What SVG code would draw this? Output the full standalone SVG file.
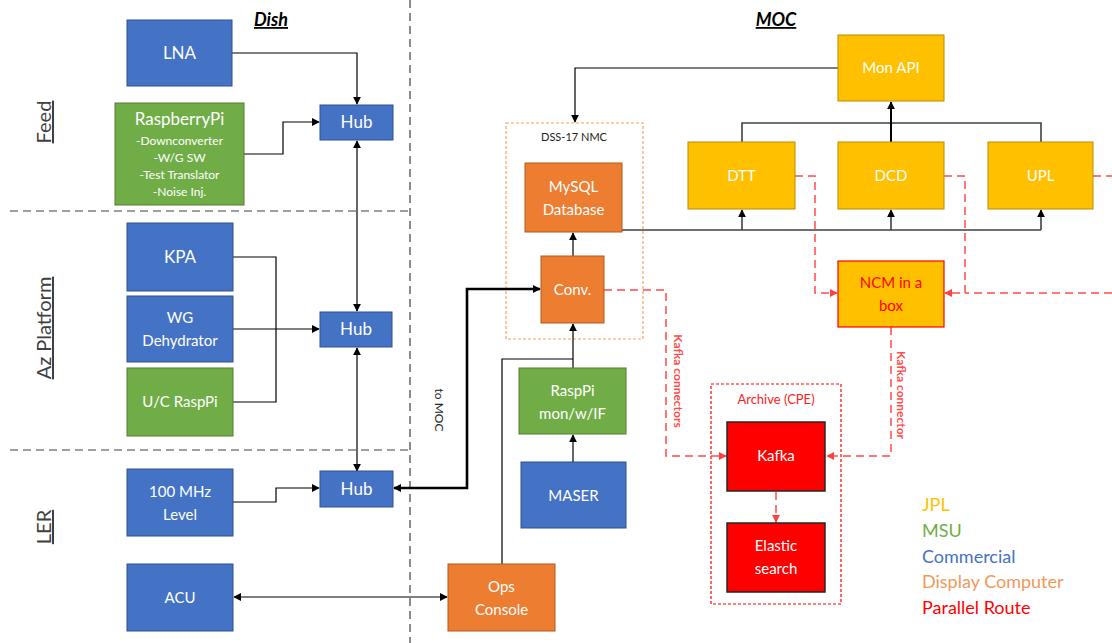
<svg xmlns="http://www.w3.org/2000/svg" width="1112" height="643" viewBox="0 0 1112 643">
<defs>
<marker id="ah" viewBox="0 0 10 10" refX="9" refY="5" markerWidth="8" markerHeight="8" markerUnits="userSpaceOnUse" orient="auto-start-reverse"><path d="M0,0 L10,5 L0,10 z" fill="#000"/></marker>
<marker id="ahr" viewBox="0 0 10 10" refX="9" refY="5" markerWidth="8" markerHeight="8" markerUnits="userSpaceOnUse" orient="auto-start-reverse"><path d="M0,0 L10,5 L0,10 z" fill="#FF4040"/></marker>
<style>
.t{font-family:Lato,"Open Sans","Liberation Sans",sans-serif;fill:#fff;text-anchor:middle}
.blue{fill:#4472C4;stroke:#2F528F;stroke-width:1}
.green{fill:#70AD47;stroke:#507E32;stroke-width:1}
.orange{fill:#ED7D31;stroke:#AE5A21;stroke-width:1}
.yellow{fill:#FFC000;stroke:#BC8C00;stroke-width:1}
.red{fill:#FF0000;stroke:#262626;stroke-width:1.5}
.ln{fill:none;stroke:#000;stroke-width:1.2}
.thick{fill:none;stroke:#000;stroke-width:2.6}
.gl{fill:none;stroke:#404040;stroke-width:1.6}
.rd{fill:none;stroke:#FF4B4B;stroke-width:1.5;stroke-dasharray:8,5}
.div{fill:none;stroke:#404040;stroke-width:1.2;stroke-dasharray:8,5}
.lab{font-family:Lato,"Open Sans","Liberation Sans",sans-serif;text-anchor:middle;fill:#404040}
</style>
</defs>
<rect width="1112" height="643" fill="#fff"/>

<g id="dividers">
<line class="div" x1="410" y1="0" x2="410" y2="643"/>
<line class="div" x1="10" y1="211" x2="410" y2="211"/>
<line class="div" x1="10" y1="450" x2="410" y2="450"/>
</g>

<g id="titles">
<text x="271" y="26" class="lab" style="font-size:18px;font-weight:bold;font-style:italic;fill:#000" text-decoration="underline">Dish</text>
<text x="776" y="26" class="lab" style="font-size:18px;font-weight:bold;font-style:italic;fill:#000" text-decoration="underline">MOC</text>
<text transform="translate(51,122) rotate(-90)" class="lab" style="font-size:20px" text-decoration="underline">Feed</text>
<text transform="translate(51,328) rotate(-90)" class="lab" style="font-size:20px" text-decoration="underline">Az Platform</text>
<text transform="translate(51,527) rotate(-90)" class="lab" style="font-size:20px" text-decoration="underline">LER</text>
</g>

<g id="containers">
<g id="dss17">
<rect x="506" y="123" width="137" height="216" fill="none" stroke="#F4A460" stroke-width="1.2" stroke-dasharray="3,2"/>
<text x="574" y="141" class="lab" style="font-size:11px;fill:#222">DSS-17 NMC</text>
</g>
<g id="archive">
<rect x="711" y="384" width="130" height="220" fill="none" stroke="#FF0000" stroke-width="1.2" stroke-dasharray="3,2"/>
<text x="776" y="404" class="lab" style="font-size:13px;fill:#FF2020">Archive (CPE)</text>
</g>
</g>

<g id="connectors">
<path class="ln" d="M232,53 H357 V104" marker-end="url(#ah)"/>
<path class="ln" d="M244,154 H283 V122 H319" marker-end="url(#ah)"/>
<path class="ln" d="M357,141 V311" marker-start="url(#ah)" marker-end="url(#ah)"/>
<path class="ln" d="M233,257 H276 V402 H233"/>
<path class="ln" d="M233,329 H319" marker-end="url(#ah)"/>
<path class="ln" d="M357,348 V471" marker-start="url(#ah)" marker-end="url(#ah)"/>
<path class="ln" d="M233,502 H276 V488 H319" marker-end="url(#ah)"/>
<path class="thick" d="M394,488 H467 V289 H540" marker-start="url(#ah)" marker-end="url(#ah)"/>
<path class="ln" d="M234,597 H447" marker-start="url(#ah)" marker-end="url(#ah)"/>
<path class="ln" d="M502,564 V359 H573"/>
<path class="ln" d="M573,368 V324" marker-end="url(#ah)"/>
<path class="ln" d="M573,462 V435" marker-end="url(#ah)"/>
<path class="ln" d="M573,256 V233" marker-end="url(#ah)"/>
<path class="ln" d="M838,68 H575 V122" marker-end="url(#ah)"/>
<path class="gl" d="M742,142 V123 H1041 V142"/>
<path class="ln" d="M891,142 V102" style="stroke-width:2" marker-end="url(#ah)"/>
<path class="gl" d="M622,230 H1041"/>
<path class="gl" d="M742,230 V210" marker-end="url(#ah)"/>
<path class="gl" d="M891,230 V210" marker-end="url(#ah)"/>
<path class="gl" d="M1041,230 V210" marker-end="url(#ah)"/>
<path class="rd" d="M795,176 H815 V293 H837" marker-end="url(#ahr)"/>
<path class="rd" d="M944,176 H965 V293 H945" marker-end="url(#ahr)"/>
<path class="rd" d="M1093,176 H1112"/>
<path class="rd" d="M1112,293 H965"/>
<path class="rd" d="M604,290 H666 V456 H726" marker-end="url(#ahr)"/>
<path class="rd" d="M891,327 V456 H827" marker-end="url(#ahr)"/>
<path class="rd" d="M776,492 V522" marker-end="url(#ahr)"/>
<text transform="translate(674,381) rotate(90)" class="lab" style="font-size:12px;font-weight:bold;fill:#FF4B4B">Kafka connectors</text>
<text transform="translate(897,395) rotate(90)" class="lab" style="font-size:12px;font-weight:bold;fill:#FF4B4B">Kafka connector</text>
<text transform="translate(435,410) rotate(90)" class="lab" style="font-size:12px;fill:#222">to MOC</text>
</g>

<g id="lna"><rect class="blue" x="127" y="20" width="105" height="66"/><text class="t" x="179.5" y="59" font-size="17">LNA</text></g>
<g id="raspberrypi"><rect class="green" x="115" y="103" width="129" height="102"/>
<text class="t" x="179.5" y="125" font-size="17">RaspberryPi</text>
<text class="t" x="179.5" y="145" font-size="12">-Downconverter</text>
<text class="t" x="179.5" y="162" font-size="12">-W/G SW</text>
<text class="t" x="179.5" y="179" font-size="12">-Test Translator</text>
<text class="t" x="179.5" y="196" font-size="12">-Noise Inj.</text></g>
<g id="hub1"><rect class="blue" x="320" y="105" width="73" height="35"/><text class="t" x="356.5" y="128" font-size="17">Hub</text></g>
<g id="kpa"><rect class="blue" x="127" y="223" width="106" height="68"/><text class="t" x="180" y="263" font-size="17">KPA</text></g>
<g id="wg"><rect class="blue" x="127" y="296" width="106" height="66"/><text class="t" x="180" y="323" font-size="15">WG</text><text class="t" x="180" y="346" font-size="15">Dehydrator</text></g>
<g id="ucraspi"><rect class="green" x="127" y="368" width="106" height="68"/><text class="t" x="180" y="407" font-size="15">U/C RaspPi</text></g>
<g id="hub2"><rect class="blue" x="320" y="312" width="72" height="35"/><text class="t" x="356" y="335" font-size="17">Hub</text></g>
<g id="mhz100"><rect class="blue" x="127" y="469" width="106" height="67"/><text class="t" x="180" y="497" font-size="15">100 MHz</text><text class="t" x="180" y="520" font-size="15">Level</text></g>
<g id="hub3"><rect class="blue" x="320" y="471" width="73" height="36"/><text class="t" x="356.5" y="495" font-size="17">Hub</text></g>
<g id="acu"><rect class="blue" x="127" y="564" width="106" height="67"/><text class="t" x="180" y="603" font-size="15">ACU</text></g>
<g id="ops"><rect class="orange" x="448" y="564" width="107" height="67"/><text class="t" x="501.5" y="592" font-size="15">Ops</text><text class="t" x="501.5" y="615" font-size="15">Console</text></g>
<g id="maser"><rect class="blue" x="521" y="462" width="105" height="66"/><text class="t" x="573.5" y="501" font-size="15">MASER</text></g>
<g id="rasppi-mon"><rect class="green" x="519" y="368" width="107" height="66"/><text class="t" x="572.5" y="396" font-size="15">RaspPi</text><text class="t" x="572.5" y="419" font-size="15">mon/w/IF</text></g>
<g id="conv"><rect class="orange" x="541" y="256" width="63" height="67"/><text class="t" x="572.5" y="295" font-size="15">Conv.</text></g>
<g id="mysql"><rect class="orange" x="525" y="163" width="97" height="69"/><text class="t" x="573.5" y="192" font-size="15">MySQL</text><text class="t" x="573.5" y="215" font-size="15">Database</text></g>
<g id="monapi"><rect class="yellow" x="838" y="35" width="106" height="66"/><text class="t" x="891" y="73" font-size="15">Mon API</text></g>
<g id="dtt"><rect class="yellow" x="688" y="142" width="107" height="67"/><text class="t" x="741.5" y="181" font-size="15">DTT</text></g>
<g id="dcd"><rect class="yellow" x="838" y="142" width="106" height="67"/><text class="t" x="891" y="181" font-size="15">DCD</text></g>
<g id="upl"><rect class="yellow" x="988" y="142" width="105" height="67"/><text class="t" x="1040.5" y="181" font-size="15">UPL</text></g>
<g id="ncm"><rect x="838" y="261" width="106" height="66" fill="#FFC000" stroke="#FF0000" stroke-width="1.2"/><text class="t" x="891" y="288" font-size="15" style="fill:#FF0000">NCM in a</text><text class="t" x="891" y="311" font-size="15" style="fill:#FF0000">box</text></g>
<g id="kafka"><rect class="red" x="727" y="422" width="98" height="69"/><text class="t" x="776" y="461" font-size="15">Kafka</text></g>
<g id="elastic"><rect class="red" x="727" y="523" width="98" height="69"/><text class="t" x="776" y="551" font-size="15">Elastic</text><text class="t" x="776" y="574" font-size="15">search</text></g>

<g id="legend" style="font-family:Lato,'Open Sans','Liberation Sans',sans-serif;font-size:18px">
<text x="922" y="511" fill="#FFC000">JPL</text>
<text x="922" y="537" fill="#70AD47">MSU</text>
<text x="922" y="563" fill="#4472C4">Commercial</text>
<text x="922" y="588" fill="#F0995A">Display Computer</text>
<text x="922" y="614" fill="#FF0000">Parallel Route</text>
</g>
</svg>
